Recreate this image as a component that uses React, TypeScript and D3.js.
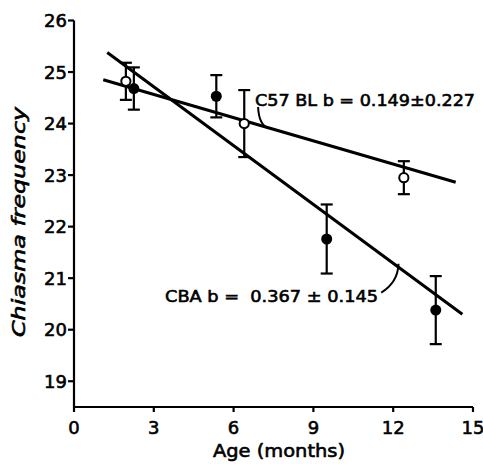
import React from "react";
import * as d3 from "d3";

const xTicks = [0, 3, 6, 9, 12, 15];
const yTicks = [19, 20, 21, 22, 23, 24, 25, 26];

// C57 BL (open circles)
const c57Age = [1.95, 6.4, 12.4];
const c57Freq = [24.82, 24.0, 22.95];
const c57Err = [0.36, 0.65, 0.32];

// CBA (filled circles)
const cbaAge = [2.25, 5.35, 9.5, 13.6];
const cbaFreq = [24.68, 24.53, 21.76, 20.38];
const cbaErr = [0.41, 0.41, 0.67, 0.66];

// Regression lines (endpoints in data units)
const c57LineAge = [1.1, 14.35];
const c57LineFreq = [24.85, 22.86];
const cbaLineAge = [1.25, 14.6];
const cbaLineFreq = [25.38, 20.3];

const c57Label = "C57 BL b = 0.149±0.227";
const cbaLabel = "CBA b =  0.367 ± 0.145";

const W = 483, H = 464;
const FONT = "'DejaVu Sans', sans-serif";

export default function App() {
  const x = d3.scaleLinear().domain([0, 15]).range([74, 473]);
  const y = d3.scaleLinear().domain([18.5, 26]).range([407, 20.5]);
  const line = d3.line<[number, number]>().x(d => x(d[0])).y(d => y(d[1]));
  const c57Pts = c57LineAge.map((a, i) => [a, c57LineFreq[i]] as [number, number]);
  const cbaPts = cbaLineAge.map((a, i) => [a, cbaLineFreq[i]] as [number, number]);

  const errBar = (a: number, f: number, e: number, k: string) => (
    <g key={k} stroke="#000" strokeWidth={2.2}>
      <line x1={x(a)} x2={x(a)} y1={y(f + e)} y2={y(f - e)} />
      <line x1={x(a) - 6} x2={x(a) + 6} y1={y(f + e)} y2={y(f + e)} />
      <line x1={x(a) - 6} x2={x(a) + 6} y1={y(f - e)} y2={y(f - e)} />
    </g>
  );

  // leader curves (data-unit anchors)
  const c57Lead = d3.path();
  c57Lead.moveTo(x(6.92), y(24.32));
  c57Lead.quadraticCurveTo(x(6.95), y(23.98), x(7.3), y(23.91));
  const cbaLead = d3.path();
  cbaLead.moveTo(x(11.55), y(20.72));
  cbaLead.quadraticCurveTo(x(12.18), y(20.92), x(12.2), y(21.28));

  const bold = { stroke: "#000", strokeWidth: 0.6 };

  return (
    <svg width={W} height={H} style={{ position: "absolute", left: 0, top: 0, background: "#fff" }}>
      <rect width={W} height={H} fill="#fff" />
      {/* axes */}
      <g stroke="#000" strokeWidth={2.2} fill="none">
        <line x1={x(0)} x2={x(0)} y1={y(26)} y2={y(18.5)} />
        <line x1={x(0)} x2={x(15)} y1={y(18.5)} y2={y(18.5)} />
        {yTicks.map(t => (
          <line key={"yt" + t} x1={x(0) - 6} x2={x(0)} y1={y(t)} y2={y(t)} />
        ))}
        {xTicks.map(t => (
          <line key={"xt" + t} x1={x(t)} x2={x(t)} y1={y(18.5)} y2={y(18.5) + 5} />
        ))}
      </g>
      <g fontFamily={FONT} fontSize={18} fill="#000" {...bold}>
        {yTicks.map(t => (
          <text key={"yl" + t} x={x(0) - 7} y={y(t)} dy="0.36em" textAnchor="end">{t}</text>
        ))}
        {xTicks.map(t => (
          <text key={"xl" + t} x={x(t)} y={434} textAnchor="middle">{t}</text>
        ))}
        <text x={279} y={457} textAnchor="middle" textLength={132} lengthAdjust="spacingAndGlyphs">Age (months)</text>
        <text transform={`translate(25,222) rotate(-90)`} textAnchor="middle" fontStyle="italic" textLength={230} lengthAdjust="spacingAndGlyphs">Chiasma frequency</text>
      </g>

      {/* regression lines */}
      <path d={line(c57Pts) || ""} stroke="#000" strokeWidth={3} fill="none" />
      <path d={line(cbaPts) || ""} stroke="#000" strokeWidth={3} fill="none" />

      {/* error bars */}
      {c57Age.map((a, i) => errBar(a, c57Freq[i], c57Err[i], "ce" + i))}
      {cbaAge.map((a, i) => errBar(a, cbaFreq[i], cbaErr[i], "be" + i))}

      {/* points */}
      {cbaAge.map((a, i) => (
        <circle key={"bp" + i} cx={x(a)} cy={y(cbaFreq[i])} r={5.5} fill="#000" />
      ))}
      {c57Age.map((a, i) => (
        <circle key={"cp" + i} cx={x(a)} cy={y(c57Freq[i])} r={4.6} fill="#fff" stroke="#000" strokeWidth={2} />
      ))}

      {/* annotations */}
      <path d={c57Lead.toString()} stroke="#000" strokeWidth={2} fill="none" />
      <path d={cbaLead.toString()} stroke="#000" strokeWidth={2} fill="none" />
      <g fontFamily={FONT} fontSize={16} fill="#000" {...bold}>
        <text x={255} y={106} textLength={220} lengthAdjust="spacingAndGlyphs">{c57Label}</text>
        <text x={165} y={302} textLength={213} lengthAdjust="spacingAndGlyphs" style={{ whiteSpace: "pre" }}>{cbaLabel}</text>
      </g>
    </svg>
  );
}
